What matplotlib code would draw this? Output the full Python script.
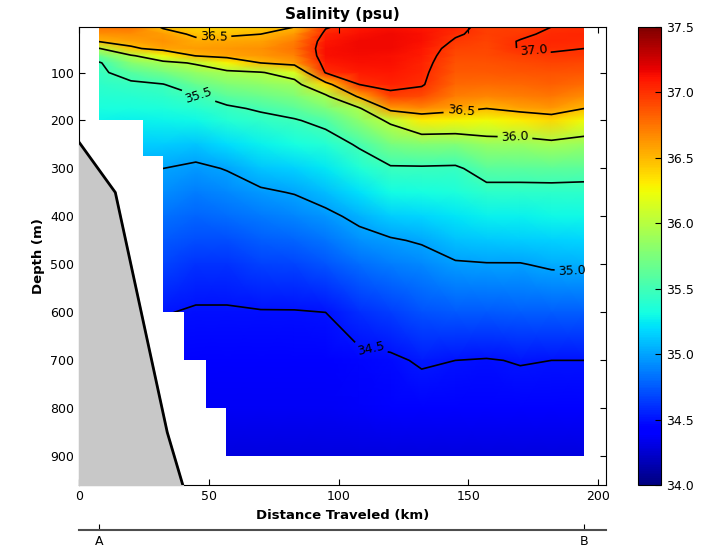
import matplotlib
matplotlib.use("Agg")
import matplotlib.pyplot as plt
import numpy as np
from matplotlib.patches import Polygon

# station positions along the section (km); first station is A, last is B
dist_km = [7.7, 20, 32.4, 45, 57, 70, 83, 95, 108, 120, 132, 145, 157, 170, 182, 194.6]
depth_m = [5, 20, 35, 50, 65, 80, 100, 125, 150, 175, 200, 250, 300, 350, 400,
           450, 500, 600, 700, 800, 900]

# salinity (psu), one row per station, surface to 900 m
salinity = [
    [36.75, 36.64, 36.52, 35.98, 35.69, 35.47, 35.46, 35.42, 35.37, 35.33, 35.28, 35.15, 35.03, 34.94, 34.85, 34.77, 34.69, 34.53, 34.44, 34.37, 34.30],
    [36.75, 36.66, 36.58, 36.46, 35.96, 35.80, 35.59, 35.46, 35.39, 35.33, 35.27, 35.14, 35.01, 34.93, 34.84, 34.76, 34.68, 34.52, 34.44, 34.37, 34.30],
    [36.47, 36.60, 36.65, 36.58, 36.25, 35.92, 35.72, 35.49, 35.42, 35.35, 35.28, 35.14, 35.00, 34.92, 34.83, 34.75, 34.67, 34.51, 34.43, 34.37, 34.30],
    [36.40, 36.46, 36.55, 36.60, 36.51, 36.03, 35.85, 35.66, 35.48, 35.39, 35.29, 35.11, 34.96, 34.87, 34.79, 34.70, 34.61, 34.48, 34.42, 34.36, 34.30],
    [36.40, 36.47, 36.56, 36.62, 36.58, 36.28, 35.93, 35.77, 35.60, 35.46, 35.37, 35.19, 35.01, 34.91, 34.81, 34.71, 34.61, 34.48, 34.42, 34.36, 34.30],
    [36.42, 36.50, 36.58, 36.64, 36.62, 36.50, 35.98, 35.83, 35.68, 35.53, 35.43, 35.27, 35.11, 34.97, 34.86, 34.76, 34.66, 34.49, 34.42, 34.36, 34.30],
    [36.50, 36.62, 36.72, 36.75, 36.70, 36.60, 36.15, 35.89, 35.75, 35.61, 35.48, 35.32, 35.16, 35.01, 34.89, 34.79, 34.68, 34.49, 34.42, 34.36, 34.30],
    [36.98, 37.05, 37.10, 37.12, 37.12, 37.08, 37.02, 36.38, 35.93, 35.75, 35.57, 35.38, 35.24, 35.09, 34.95, 34.84, 34.73, 34.50, 34.43, 34.36, 34.30],
    [37.10, 37.12, 37.15, 37.15, 37.14, 37.12, 37.08, 37.00, 36.55, 35.96, 35.82, 35.53, 35.36, 35.21, 35.05, 34.93, 34.82, 34.60, 34.46, 34.38, 34.30],
    [37.12, 37.15, 37.15, 37.15, 37.13, 37.12, 37.10, 37.05, 36.95, 36.60, 36.05, 35.73, 35.47, 35.31, 35.14, 34.98, 34.87, 34.65, 34.47, 34.39, 34.30],
    [37.10, 37.12, 37.12, 37.10, 37.08, 37.06, 37.04, 37.02, 36.90, 36.67, 36.30, 35.78, 35.47, 35.32, 35.17, 35.02, 34.91, 34.72, 34.52, 34.41, 34.30],
    [37.05, 37.02, 36.98, 36.93, 36.90, 36.88, 36.85, 36.80, 36.72, 36.58, 36.28, 35.77, 35.46, 35.34, 35.22, 35.10, 34.98, 34.74, 34.50, 34.42, 34.30],
    [36.95, 36.95, 36.93, 36.92, 36.90, 36.88, 36.85, 36.78, 36.68, 36.50, 36.25, 35.87, 35.61, 35.42, 35.27, 35.13, 34.99, 34.74, 34.49, 34.40, 34.30],
    [36.95, 36.97, 37.01, 37.01, 36.95, 36.90, 36.86, 36.80, 36.72, 36.58, 36.30, 35.87, 35.61, 35.42, 35.27, 35.14, 34.99, 34.76, 34.51, 34.42, 34.30],
    [37.00, 37.03, 37.04, 37.02, 36.98, 36.93, 36.88, 36.82, 36.74, 36.62, 36.38, 35.92, 35.62, 35.42, 35.29, 35.16, 35.03, 34.76, 34.50, 34.41, 34.30],
    [37.02, 37.04, 37.03, 37.00, 36.97, 36.92, 36.86, 36.78, 36.66, 36.50, 36.25, 35.87, 35.60, 35.42, 35.29, 35.17, 35.04, 34.76, 34.50, 34.41, 34.30],
]

# where the casts have data: depth bands and the first km with data in each
band_top = [5, 200, 275, 600, 700, 800]
band_bottom = [200, 275, 600, 700, 800, 900]
band_start_km = [7.7, 24.6, 32.4, 40.4, 48.8, 56.7]

# sea floor near A
bathy_km = [0, 14, 34, 40]
bathy_m = [245, 350, 850, 960]

levels = [34.5, 35.0, 35.5, 36.0, 36.5, 37.0]
label_spots = [(52, 28), (46, 150), (147, 175), (168, 225), (190, 505),
               (113, 655), (175, 55)]
cbar_ticks = [34.0, 34.5, 35.0, 35.5, 36.0, 36.5, 37.0, 37.5]
station_names = ["A", "B"]

fig = plt.figure(figsize=(7.18, 5.5), dpi=100)
ax = fig.add_axes([0.110, 0.118, 0.734, 0.833])

X, Y = np.meshgrid(dist_km, depth_m)
S = np.array(salinity).T

# outline of the sampled area, used to clip the field and the contours
verts = [(band_start_km[0], band_top[0]), (dist_km[-1], band_top[0]),
         (dist_km[-1], band_bottom[-1])]
for i in range(len(band_top) - 1, -1, -1):
    verts.append((band_start_km[i], band_bottom[i]))
    verts.append((band_start_km[i], band_top[i]))
clip = Polygon(verts, closed=True, transform=ax.transData)

mesh = ax.pcolormesh(X, Y, S, cmap="jet", vmin=34.0, vmax=37.5,
                     shading="gouraud")
mesh.set_clip_path(clip)

cs = ax.contour(X, Y, S, levels=levels, colors="k", linewidths=1.2)
cs.set_clip_path(clip)
ax.clabel(cs, fmt="%.1f", fontsize=9, manual=label_spots, inline=True)

ax.fill_betweenx(bathy_m, 0, bathy_km, color="#c8c8c8", zorder=3)
ax.plot(bathy_km, bathy_m, "k-", lw=2, zorder=4)

ax.set_xlim(0, 203)
ax.set_ylim(960, 5)
ax.set_xticks([0, 50, 100, 150, 200])
ax.set_yticks([100, 200, 300, 400, 500, 600, 700, 800, 900])
ax.tick_params(direction="in", top=True, right=True, labelsize=9, length=4)
ax.set_title("Salinity (psu)", fontsize=11, fontweight="bold")
ax.set_xlabel("Distance Traveled (km)", fontsize=9.5, fontweight="bold")
ax.set_ylabel("Depth (m)", fontsize=9.5, fontweight="bold")

cax = fig.add_axes([0.8886, 0.118, 0.032, 0.833])
cb = fig.colorbar(mesh, cax=cax, ticks=cbar_ticks, format="%.1f")
cb.ax.tick_params(direction="in", labelsize=9, length=4)

# A - B strip under the section
axab = fig.add_axes([0.110, 0.0364, 0.734, 0.001])
axab.set_xlim(0, 203)
axab.patch.set_visible(False)
for side in ["top", "left", "right"]:
    axab.spines[side].set_visible(False)
axab.spines["bottom"].set_linewidth(1.5)
axab.spines["bottom"].set_color("0.3")
axab.set_yticks([])
axab.set_xticks([dist_km[0], dist_km[-1]])
axab.set_xticklabels(station_names)
axab.tick_params(direction="in", length=4, labelsize=9)

fig.savefig("out.png", dpi=100)
